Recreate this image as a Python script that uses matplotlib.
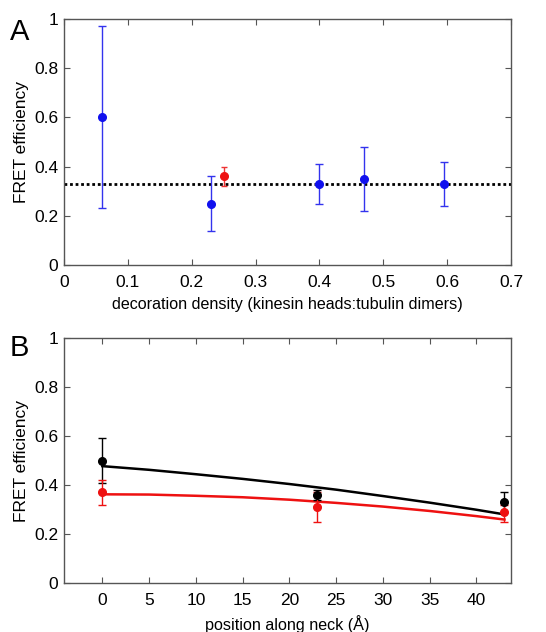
import matplotlib
matplotlib.use("Agg")
import matplotlib.pyplot as plt

plt.rcParams['font.family'] = ['Liberation Sans', 'DejaVu Sans']

# Panel A data
a_blue_x = [0.06, 0.23, 0.40, 0.47, 0.595]
a_blue_y = [0.60, 0.25, 0.33, 0.35, 0.33]
a_blue_lo = [0.23, 0.14, 0.25, 0.22, 0.24]
a_blue_hi = [0.97, 0.36, 0.41, 0.48, 0.42]
a_red_x = [0.25]
a_red_y = [0.36]
a_red_lo = [0.32]
a_red_hi = [0.40]
a_mean = 0.33

# Panel B data
b_x = [0, 23, 43]
b_black_y = [0.50, 0.36, 0.33]
b_black_lo = [0.41, 0.34, 0.29]
b_black_hi = [0.59, 0.38, 0.37]
b_red_y = [0.37, 0.31, 0.29]
b_red_lo = [0.32, 0.25, 0.25]
b_red_hi = [0.42, 0.37, 0.32]

curve_x = [0, 5, 10, 15, 20, 25, 30, 35, 40, 43]
curve_black = [0.477, 0.462, 0.444, 0.425, 0.404, 0.381, 0.355, 0.328, 0.299, 0.280]
curve_red = [0.362, 0.361, 0.356, 0.350, 0.340, 0.327, 0.312, 0.294, 0.273, 0.259]

a_xticks = [0, 0.1, 0.2, 0.3, 0.4, 0.5, 0.6, 0.7]
a_xticklabels = ['0', '0.1', '0.2', '0.3', '0.4', '0.5', '0.6', '0.7']
yticks = [0, 0.2, 0.4, 0.6, 0.8, 1]
yticklabels = ['0', '0.2', '0.4', '0.6', '0.8', '1']
b_xticks = [0, 5, 10, 15, 20, 25, 30, 35, 40]

fig = plt.figure(figsize=(5.46, 6.32), dpi=100)
W, H = 546, 632
axA = fig.add_axes([64 / W, 1 - 265 / H, (511 - 64) / W, (265 - 19) / H])
axB = fig.add_axes([64 / W, 1 - 583 / H, (511 - 64) / W, (583 - 338) / H])

def errs(y, lo, hi):
    return [[v - l for v, l in zip(y, lo)], [h - v for v, h in zip(y, hi)]]

def style(ax):
    for s in ax.spines.values():
        s.set_color('#555555')
        s.set_linewidth(1.0)
    ax.tick_params(direction='in', top=True, right=True, length=4, width=0.8,
                   color='#555555', labelsize=12.5, pad=4)
    ax.tick_params(axis='x', pad=7)
    ax.set_yticks(yticks)
    ax.set_yticklabels(yticklabels)
    ax.set_ylim(0, 1)
    ax.set_ylabel('FRET efficiency', fontsize=12.5, labelpad=4)

# Panel A
axA.axhline(a_mean, color='black', linestyle=(0, (1, 1)), linewidth=2.0, zorder=1)
axA.errorbar(a_blue_x, a_blue_y, yerr=errs(a_blue_y, a_blue_lo, a_blue_hi),
             fmt='o', color='#1010ee', ecolor='#3333ee', markersize=5.5,
             elinewidth=1.0, capsize=3, capthick=1.0, zorder=3)
axA.errorbar(a_red_x, a_red_y, yerr=errs(a_red_y, a_red_lo, a_red_hi),
             fmt='o', color='#ee1111', ecolor='#ee3333', markersize=5.5,
             elinewidth=1.0, capsize=2, capthick=1.0, zorder=3)
axA.set_xlim(0, 0.7)
axA.set_xticks(a_xticks)
axA.set_xticklabels(a_xticklabels)
style(axA)
axA.set_xlabel('decoration density (kinesin heads:tubulin dimers)', fontsize=11.6, labelpad=5)
fig.text(10 / W, 1 - 32 / H, 'A', fontsize=21, va='center', ha='left')

# Panel B
axB.plot(curve_x, curve_black, color='black', linewidth=1.8, zorder=2)
axB.plot(curve_x, curve_red, color='#ee1111', linewidth=1.8, zorder=2)
axB.errorbar(b_x, b_black_y, yerr=errs(b_black_y, b_black_lo, b_black_hi),
             fmt='o', color='black', markersize=5.5, elinewidth=1.0,
             capsize=3, capthick=1.0, zorder=3)
axB.errorbar(b_x, b_red_y, yerr=errs(b_red_y, b_red_lo, b_red_hi),
             fmt='o', color='#ee1111', markersize=5.5, elinewidth=1.0,
             capsize=3, capthick=1.0, zorder=3)
axB.set_xlim(-4.1, 43.7)
axB.set_xticks(b_xticks)
style(axB)
axB.set_xlabel('position along neck (Å)', fontsize=11.6, labelpad=5)
fig.text(10 / W, 1 - 348 / H, 'B', fontsize=21, va='center', ha='left')

fig.savefig('out.png', dpi=100)
